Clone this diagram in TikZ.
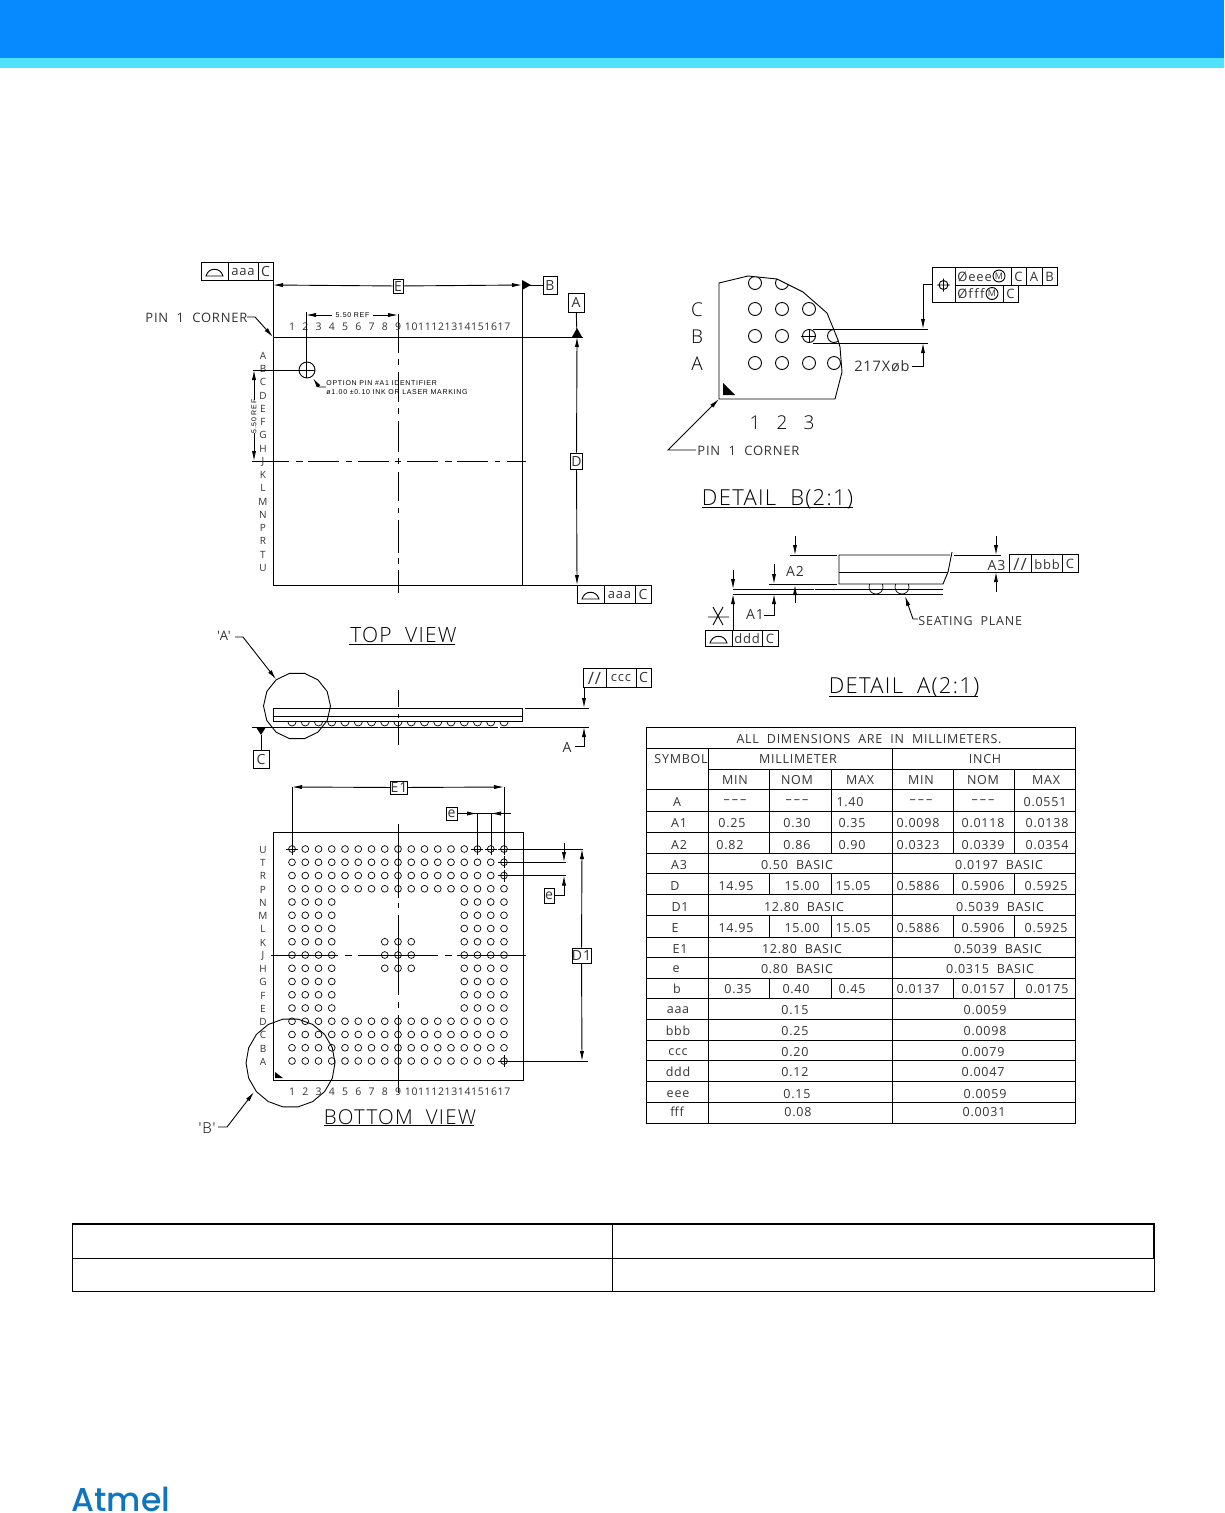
\documentclass[tikz,border=0pt]{standalone}
\usepackage{fontspec}
\usetikzlibrary{arrows.meta,shapes.geometric}
\newfontfamily\cadfont[LetterSpace=6]{Open Sans}
\newfontfamily\thinfont[LetterSpace=6]{Open Sans Light}
\newfontfamily\tinyfont[LetterSpace=10]{Liberation Sans}
\newfontfamily\logofont{Poppins Medium}
\newcommand{\cadsize}[1]{\cadfont\fontsize{#1}{#1}\selectfont}
\newcommand{\thinsize}[1]{\thinfont\fontsize{#1}{#1}\selectfont}
\definecolor{headblue}{RGB}{8,138,255}
\definecolor{headcyan}{RGB}{80,225,255}
\definecolor{logoblue}{RGB}{15,117,188}
\tikzset{
	dimarrow/.style={-{Latex[length=10pt,width=4.2pt]}},
	lbl/.style={font=\cadsize{#1},inner sep=0pt,text=black!80,yshift=-0.7pt},
	lbl/.default=13,
	biglbl/.style={font=\thinsize{#1},inner sep=0pt,text=black,yshift=-0.8pt},
	tinylbl/.style={font=\tinyfont\fontsize{7}{7}\selectfont,inner sep=0pt},
	dbox/.style 2 args={draw,inner sep=0pt,font=\cadsize{14},text=black!80,minimum width=#1pt,minimum height=#2pt},
	ball/.style={line width=0.7pt},
	cell/.style={font=\cadsize{12.5},inner sep=0pt,text=black!80,yshift=-0.7pt},
	domesym/.pic={\draw (-8.5,4) .. controls (-6,-5) and (6,-5) .. (8.5,4) -- cycle;}
}
\begin{document}
\begin{tikzpicture}[x=1pt,y=-1pt,line width=0.9pt]
	\useasboundingbox (0,0) rectangle (1224,1513);
	\fill[headblue] (0,0) rectangle (1224,58);
	\fill[headcyan] (0,58) rectangle (1224,68);

	% top view
	\draw (273,280) -- (273,585) -- (577,585);
	\draw (273,337) -- (583,337);
	\draw (522,285) -- (522,585);
	\foreach \a/\b in {314/353,359/365,372/402,408/414,421/452,458/464,472/501,508/513,520/553,558/564,570/593}
		\draw (398,\a) -- (398,\b);
	\foreach \a/\b in {252/289,296/303,308/339,346/352,358/389,395/401,407/438,445/452,457/488,495/500,507/526}
		\draw (\a,461) -- (\b,461);
	\draw (201,262) rectangle (273,280) (228,262) -- (228,280) (258,262) -- (258,280);
	\pic at (214.5,272) {domesym};
	\node[lbl=13] (aaaone) at (243,271.5) {aaa};
	\node[lbl=14] (cone) at (265.5,271) {C};
	\node[dbox={10}{14}] (boxE) at (398,286) {E};
	\node[dbox={14}{18}] (boxB) at (550,285) {B};
	\node[dbox={16}{19}] (boxA) at (576,302.5) {A};
	\node[dbox={12}{16}] (boxD) at (576.5,461) {D};
	\draw[dimarrow] (boxE) -- (273,285);
	\draw[dimarrow] (boxE) -- (522,285);
	\draw (522,285) -- (boxB);
	\fill (522,280) -- (531,285) -- (522,290) -- cycle;
	\draw (boxA) -- (577,337);
	\fill (572,337) -- (582,337) -- (577,328) -- cycle;
	\draw[dimarrow] (boxD) -- (577,337);
	\draw[dimarrow] (boxD) -- (577,585);
	\draw (577,585) rectangle (651,603) (604,585) -- (604,603) (635,585) -- (635,603);
	\pic at (590.5,595) {domesym};
	\node[lbl=13] (aaatwo) at (619.5,594.5) {aaa};
	\node[lbl=14] (ctwo) at (643,594) {C};
	\node[lbl=13,anchor=west] (pincorner) at (145,317) {PIN\ \ 1\ \ CORNER};
	\draw[dimarrow] (247,317) -- (255,317) -- (273,337);
	\foreach \n in {1,...,17}
		\node[lbl=10.5] (topcol\n) at (292+13.25*\n-13.25,326) {\n};
	\foreach \l [count=\k from 0] in {A,B,C,D,E,F,G,H,J,K,L,M,N,P,R,T,U}
		\node[lbl=10] (toprow\l) at (263,355+13.25*\k) {\l};
	\draw (306,312) -- (306,378);
	\draw[dimarrow] (332,315) -- (306,315);
	\draw[dimarrow] (373,315) -- (398,315);
	\node[tinylbl] (refh) at (352.5,315) {5.50 REF};
	\draw (253,370) -- (315,370);
	\draw (307,370) circle (8);
	\draw[dimarrow] (254,400) -- (254,370);
	\draw[dimarrow] (254,433) -- (254,461);
	\node[tinylbl,rotate=90] (refv) at (254,416.5) {5.50 REF};
	\draw[dimarrow] (326,387) -- (319,387) -- (313,378);
	\node[tinylbl,anchor=west] (optone) at (326,383) {OPTION PIN \#A1 IDENTIFIER};
	\node[tinylbl,anchor=west] (opttwo) at (326,392) {ø1.00 ±0.10 INK OR LASER MARKING};
	\node[biglbl=21] (toptitle) at (403.5,634.5) {TOP\ \ VIEW};
	\draw (349,644) -- (455,644);

	% side view
	\node[draw,regular polygon,regular polygon sides=14,minimum size=67pt,inner sep=0pt] (circA) at (297,706) {};
	\draw (273,708) rectangle (522,721) (273,716) -- (522,716);
	\begin{scope}
		\clip (280,721) rectangle (520,727);
		\foreach \n in {0,...,16}
			\draw[ball] (292+13.25*\n,722) circle (4);
	\end{scope}
	\draw (252,727) -- (498,727) (500,727) -- (589,727);
	\draw (525,708) -- (589,708);
	\foreach \a/\b in {690/707,714/718,722/745}
		\draw (398,\a) -- (398,\b);
	\draw (583,668) rectangle (651,687) (606,668) -- (606,687) (636,668) -- (636,687);
	\node[lbl=17] (parone) at (594.5,677.5) {//};
	\node[lbl=13] (ccc) at (621,677.5) {ccc};
	\node[lbl=14] (cthree) at (643.5,677) {C};
	\draw[dimarrow] (584,687) -- (584,708);
	\node[lbl=14] (aside) at (567,747) {A};
	\draw[dimarrow] (575,746) -- (584,746) -- (584,727);
	\fill (256,727) -- (266,727) -- (261,735) -- cycle;
	\node[dbox={16}{18}] (boxC) at (261,759) {C};
	\draw (261,735) -- (boxC);
	\node[lbl=13] (quoteA) at (224,635) {'A'};
	\draw[dimarrow] (235,637) -- (243,637) -- (circA);

	% bottom view
	\draw (273,832) rectangle (523,1080);
	\foreach \r in {0,1,2,3,13,14,15,16}
		\foreach \c in {0,...,16}
			\draw[ball] (292+13.25*\c,849+13.25*\r) circle (3.4);
	\foreach \r in {4,...,12}
		\foreach \c in {0,1,2,3,13,14,15,16}
			\draw[ball] (292+13.25*\c,849+13.25*\r) circle (3.4);
	\foreach \r in {7,8,9}
		\foreach \c in {7,8,9}
			\draw[ball] (292+13.25*\c,849+13.25*\r) circle (3.4);
	\foreach \a/\b in {824/898,903/908,915/995,1002/1008,1015/1093}
		\draw (398,\a) -- (398,\b);
	\foreach \a/\b in {271/338,345/352,358/438,445/452,457/526}
		\draw (\a,955) -- (\b,955);
	\foreach \x/\y in {292/849,477/849,491/849,504/849,504/862,504/875.5,504/1061}{
		\draw[ball] (\x-6,\y) -- (\x+6,\y) (\x,\y-6) -- (\x,\y+6);
	}
	\foreach \l [count=\k from 0] in {U,T,R,P,N,M,L,K,J,H,G,F,E,D,C,B,A}
		\node[lbl=10] (botrow\l) at (263,849+13.25*\k) {\l};
	\foreach \n in {1,...,17}
		\node[lbl=10.5] (botcol\n) at (292+13.25*\n-13.25,1091) {\n};
	\fill (275,1072) -- (275,1078) -- (283,1078) -- cycle;
	\node[dbox={16}{13}] (boxEone) at (399,787.5) {E1};
	\draw[dimarrow] (boxEone) -- (292,787);
	\draw[dimarrow] (boxEone) -- (504,787);
	\draw (292,787) -- (292,849) (504,787) -- (504,849);
	\draw (477,813) -- (477,849) (491,813) -- (491,849);
	\node[dbox={11}{13}] (boxe) at (451.5,813.5) {e};
	\draw (boxe) -- (511,813.5);
	\draw[dimarrow] (boxe) -- (477,813.5);
	\draw[dimarrow] (505,813.5) -- (491,813.5);
	\draw (504,849) -- (583,849);
	\draw (504,862) -- (566,862) (504,875.5) -- (566,875.5);
	\draw[dimarrow] (564,843) -- (564,862);
	\node[dbox={10}{15}] (boxetwo) at (549,895.5) {e};
	\draw[dimarrow] (boxetwo) -- (564,895.5) -- (564,875.5);
	\node[dbox={17}{15}] (boxDone) at (581.5,955.5) {D1};
	\draw[dimarrow] (boxDone) -- (582,849);
	\draw[dimarrow] (boxDone) -- (582,1061);
	\draw (504,1061) -- (588,1061);
	\node[draw,regular polygon,regular polygon sides=18,minimum size=89pt,inner sep=0pt] (circB) at (290.5,1063) {};
	\node[biglbl=15] (quoteB) at (207,1127) {'B'};
	\draw[dimarrow] (218,1127) -- (227,1127) -- (254,1092);
	\node[biglbl=20.5] (bottitle) at (400,1116) {BOTTOM\ \ VIEW};
	\draw (324,1125) -- (474,1125);

	% detail B
	\draw (748,276) -- (719,283) -- (719,399) -- (835,399) -- (842,372) -- (840,347) -- (838,340) -- (827,313) -- (803,292) -- (777,279) -- cycle;
	\begin{scope}
		\clip (748,276) -- (719,283) -- (719,399) -- (835,399) -- (842,372) -- (840,347) -- (838,340) -- (827,313) -- (803,292) -- (777,279) -- cycle;
		\foreach \x/\y in {755/283,782/283,755/309,782/309,809/309,755/336,782/336,809/336,834/336,755/363,782/363,809/363,834/363}
			\draw (\x,\y) circle (6.5);
	\end{scope}
	\draw (801,336) -- (815,336) (809,329) -- (809,343);
	\fill (723,383) -- (723,395) -- (735,395) -- cycle;
	\node[biglbl=19] (detC) at (697,309) {C};
	\node[biglbl=19] (detB) at (697,336) {B};
	\node[biglbl=19] (detA) at (697,363) {A};
	\node[biglbl=19] (detone) at (755,422) {1};
	\node[biglbl=19] (dettwo) at (782,422) {2};
	\node[biglbl=19] (detthree) at (809,422) {3};
	\node[lbl=13,anchor=west] (pinb) at (697,450) {PIN\ \ 1\ \ CORNER};
	\draw[dimarrow] (696,450) -- (668,450) -- (719,399);
	\node[biglbl=22] (detbtitle) at (777.5,498) {DETAIL\ \ B(2:1)};
	\draw (702,507) -- (853,507);
	\draw (813,329) -- (928,329) (813,343) -- (928,343);
	\draw (932,267) rectangle (955,302);
	\draw (955,267) rectangle (1011,285) (1011,267) rectangle (1026,285) (1026,267) rectangle (1042,285) (1042,267) rectangle (1057,285);
	\draw (955,285) rectangle (1003,302) (1003,285) rectangle (1018,302);
	\draw (943.5,285) circle (4.5) (937,285) -- (950,285) (943.5,278.5) -- (943.5,291.5);
	\draw[dimarrow] (932,284) -- (923,284) -- (923,329);
	\draw[dimarrow] (912,366) -- (923,366) -- (923,343);
	\node[lbl=14.5,anchor=east] (ballnote) at (910,366) {217Xøb};
	\node[lbl=13,anchor=west] (eee) at (957,276) {Øeee};
	\node[draw,circle,inner sep=0pt,minimum size=12pt,font=\cadsize{9},text=black!80] (eeeM) at (999,276) {M};
	\node[lbl=13] (ceee) at (1018.5,276) {C};
	\node[lbl=13] (aeee) at (1034,276) {A};
	\node[lbl=13] (beee) at (1049.5,276) {B};
	\node[lbl=13,anchor=west] (fff) at (957,293.5) {Øf\kern1.5pt f\kern1.5pt f};
	\node[draw,circle,inner sep=0pt,minimum size=12pt,font=\cadsize{9},text=black!80] (fffM) at (992,293.5) {M};
	\node[lbl=13] (cfff) at (1010.5,293.5) {C};

	% detail A
	\draw (952,552) -- (948,572) -- (943,584) -- (839,584) -- (839,555) -- (950,555);
	\draw (839,572) -- (948,572);
	\begin{scope}
		\clip (860,584) rectangle (920,595);
		\draw[ball] (876,587) circle (7) (902,587) circle (7);
	\end{scope}
	\draw (733,589) -- (814,589) (815,589) -- (943,589);
	\draw (733,594) -- (943,594);
	\draw (790,555) -- (837,555) (769,584) -- (837,584);
	\draw (954,555) -- (1001,555) (950,572) -- (1009,572);
	\draw[dimarrow] (795,536) -- (795,555);
	\draw[dimarrow] (774,564) -- (774,584);
	\draw[dimarrow] (795,603) -- (795,585);
	\draw[dimarrow] (996,536) -- (996,555);
	\draw[dimarrow] (996,592) -- (996,572);
	\node[lbl=14] (atwo) at (795,571) {A2};
	\node[lbl=14] (athree) at (996.5,565) {A3};
	\node[lbl=14] (aone) at (755,614) {A1};
	\draw[dimarrow] (764,615) -- (774,615) -- (774,594);
	\draw[dimarrow] (733,570) -- (733,589);
	\draw[dimarrow] (733,630) -- (733,594);
	\draw (708,617) -- (729,617) (713,607) -- (723,625) (723,607) -- (713,625);
	\draw (705,630) rectangle (778,646) (732,630) -- (732,646) (762,630) -- (762,646);
	\pic at (718.5,639) {domesym};
	\node[lbl=13] (ddd) at (747,638) {ddd};
	\node[lbl=13] (cddd) at (770,638) {C};
	\draw (1009,554) rectangle (1078,572) (1031,554) -- (1031,572) (1062,554) -- (1062,572);
	\node[lbl=17] (partwo) at (1020,564) {//};
	\node[lbl=13] (bbb) at (1047,563.5) {bbb};
	\node[lbl=13] (cbbb) at (1070,563.5) {C};
	\node[lbl=12.5,anchor=west] (seating) at (918,620) {SEATING\ \ PLANE};
	\draw[dimarrow] (918,619) -- (913,619) -- (905,596);
	\node[biglbl=22] (detatitle) at (904,686.5) {DETAIL\ \ A(2:1)};
	\draw (829,696) -- (978,696);

	% table
	\draw (646,727) rectangle (1075,1123);
	\foreach \y in {748,811,832,853,873,894,915,937,957,978,998,1019,1040,1060,1081,1102}
		\draw (646,\y) -- (1075,\y);
	\draw (646,789) -- (1075,789);
	\draw (708,769) -- (1075,769);
	\draw (708,748) -- (708,1123) (892,748) -- (892,1123);
	\foreach \a/\b in {769/853,873/894,915/937,978/998}
		\draw (769,\a) -- (769,\b) (831,\a) -- (831,\b) (953,\a) -- (953,\b) (1014,\a) -- (1014,\b);
	\foreach \x/\y/\t [count=\n] in {
		869/738/ALL\ \ DIMENSIONS\ \ ARE\ \ IN\ \ MILLIMETERS.,
		681/758/SYMBOL,798/758/MILLIMETER,985/758/INCH,
		735/779/MIN,797/779/NOM,860/779/MAX,921/779/MIN,983/779/NOM,1046/779/MAX,
		677/801/A,735/801/–\,–\,–,797/801/–\,–\,–,850/801/1.40,921/801/–\,–\,–,983/801/–\,–\,–,1045/801/0.0551,
		679/822/A1,732/822/0.25,797/822/0.30,852/822/0.35,918/822/0.0098,983/822/0.0118,1047/822/0.0138,
		679/844/A2,730/844/0.82,797/844/0.86,852/844/0.90,918/844/0.0323,983/844/0.0339,1047/844/0.0354,
		679/864/A3,797/864/0.50\ \ BASIC,999/864/0.0197\ \ BASIC,
		675/885/D,736/885/14.95,802/885/15.00,853/885/15.05,918/885/0.5886,983/885/0.5906,1046/885/0.5925,
		680/906/D1,804/906/12.80\ \ BASIC,1000/906/0.5039\ \ BASIC,
		675/927/E,736/927/14.95,802/927/15.00,853/927/15.05,918/927/0.5886,983/927/0.5906,1046/927/0.5925,
		680/948/E1,802/948/12.80\ \ BASIC,998/948/0.5039\ \ BASIC,
		676/968/e,797/968/0.80\ \ BASIC,990/968/0.0315\ \ BASIC,
		677/988/b,738/988/0.35,796/988/0.40,852/988/0.45,918/988/0.0137,983/988/0.0157,1047/988/0.0175,
		678/1009/aaa,795/1009/0.15,985/1009/0.0059,
		678/1030/bbb,795/1030/0.25,985/1030/0.0098,
		678/1051/ccc,795/1051/0.20,983/1051/0.0079,
		678/1071/ddd,795/1071/0.12,983/1071/0.0047,
		678/1093/eee,797/1093/0.15,985/1093/0.0059,
		677/1111/fff,798/1111/0.08,984/1111/0.0031}
		\node[cell] (cell\n) at (\x,\y) {\t};

	% bottom table
	\draw (72,1258) -- (1154,1258) (612,1224) -- (612,1291);
	\draw (72,1224) rectangle (1154,1291);
	\draw[line width=1.5pt] (72,1224) -- (1154,1224) -- (1154,1258);

	\node[anchor=base west,inner sep=0pt,text=logoblue,font=\logofont\fontsize{33}{33}\selectfont] (logo) at (71,1511) {Atmel};
\end{tikzpicture}
\end{document}
